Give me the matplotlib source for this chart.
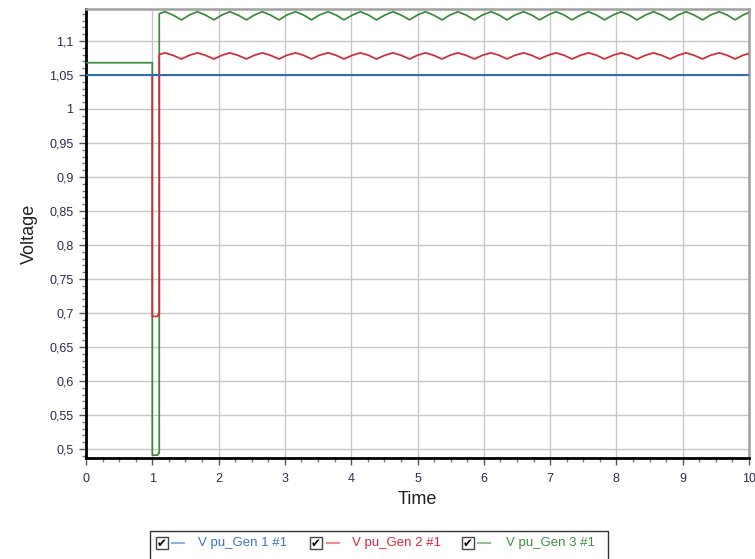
import matplotlib
matplotlib.use("Agg")
import matplotlib.pyplot as plt
from matplotlib.ticker import MultipleLocator, FuncFormatter
from matplotlib.patches import Rectangle
from matplotlib.lines import Line2D

plt.rcParams['font.family'] = ['Liberation Sans', 'DejaVu Sans']

# ---------------- data ----------------
gen1_t = [0.0, 10.0]
gen1_v = [1.05, 1.05]

# common steady-state sample times after the disturbance
osc_t = [1.19, 1.31, 1.44, 1.56, 1.68, 1.80, 1.93, 2.05, 2.17, 2.29, 2.42, 2.54,
         2.66, 2.78, 2.91, 3.03, 3.16, 3.28, 3.40, 3.52, 3.65, 3.77, 3.89, 4.02,
         4.14, 4.26, 4.38, 4.51, 4.63, 4.75, 4.88, 5.00, 5.12, 5.24, 5.37, 5.49,
         5.61, 5.73, 5.86, 5.98, 6.11, 6.23, 6.35, 6.47, 6.60, 6.72, 6.84, 6.97,
         7.09, 7.21, 7.33, 7.46, 7.58, 7.70, 7.82, 7.95, 8.07, 8.19, 8.31, 8.44,
         8.56, 8.68, 8.81, 8.93, 9.05, 9.17, 9.30, 9.42, 9.55, 9.67, 9.79, 9.91,
         10.0]

gen2_pre_t = [0.0, 1.0, 1.0, 1.08, 1.09, 1.105, 1.105]
gen2_pre_v = [1.05, 1.05, 0.695, 0.695, 0.698, 0.698, 1.080]
gen2_osc_v = [1.0825, 1.0790, 1.0735, 1.0790] * 18 + [1.0815]

gen3_pre_t = [0.0, 1.0, 1.0, 1.08, 1.095, 1.105, 1.105]
gen3_pre_v = [1.068, 1.068, 0.491, 0.491, 0.494, 0.494, 1.140]
gen3_osc_v = [1.1430, 1.1382, 1.1310, 1.1382] * 18 + [1.1418]

series_labels = ["V pu_Gen 1 #1", "V pu_Gen 2 #1", "V pu_Gen 3 #1"]
line_colors = ["#2f6db5", "#d42a35", "#3a8a3a"]
legend_line_colors = ["#8db5e2", "#ec8e92", "#8fc48f"]
legend_text_colors = ["#3a74c8", "#d8283a", "#3f8f3f"]

# ---------------- figure ----------------
W, H = 755, 559
fig = plt.figure(figsize=(W / 100, H / 100), dpi=100)
fig.patch.set_facecolor("white")
ax = fig.add_axes([86 / W, 1 - 458 / H, (749 - 86) / W, (458 - 9) / H])

ax.plot(gen3_pre_t + osc_t, gen3_pre_v + gen3_osc_v, color=line_colors[2], lw=1.25, zorder=3)
ax.plot(gen2_pre_t + osc_t, gen2_pre_v + gen2_osc_v, color=line_colors[1], lw=1.25, zorder=4)
ax.plot(gen1_t, gen1_v, color=line_colors[0], lw=1.5, zorder=5)

ax.set_xlim(0, 10)
ax.set_ylim(0.4868, 1.147)

ax.xaxis.set_major_locator(MultipleLocator(1))
ax.xaxis.set_minor_locator(MultipleLocator(0.25))
ax.yaxis.set_major_locator(MultipleLocator(0.05))
ax.yaxis.set_minor_locator(MultipleLocator(0.01))

def fmt(v, pos):
    s = f"{round(v, 3):g}"
    return s.replace('.', ',')

ax.yaxis.set_major_formatter(FuncFormatter(fmt))
ax.xaxis.set_major_formatter(FuncFormatter(fmt))

ax.grid(True, which='major', color='#c8c8c8', lw=1.0, zorder=0)
ax.set_axisbelow(True)

for s in ['left', 'bottom']:
    ax.spines[s].set_color('black')
    ax.spines[s].set_linewidth(2.0)
for s in ['top', 'right']:
    ax.spines[s].set_color('#a0a0a0')
    ax.spines[s].set_linewidth(1.8)

ax.tick_params(which='major', direction='out', length=5, width=1, color='#555555',
               labelsize=9, labelcolor='#2e2a55', pad=4)
ax.tick_params(which='minor', direction='out', length=3, width=1, color='#777777')
ax.tick_params(axis='x', pad=6)

ax.set_xlabel("Time", fontsize=13, color='#222222', labelpad=4)
ax.set_ylabel("Voltage", fontsize=13, color='#222222', labelpad=8)

# ---------------- legend (checkbox style) ----------------
def px(x, y):
    return x / W, 1 - y / H

box_l, box_r, box_t = 150, 608, 531
fig.add_artist(Line2D([box_l / W, box_l / W, box_r / W, box_r / W],
                      [0, 1 - box_t / H, 1 - box_t / H, 0],
                      transform=fig.transFigure, color='#333333', lw=1.0))

cb_x = [156, 310, 462]
ln_x = [172, 327, 478]
tx_x = [198, 352, 506]
yc = 543
for i in range(3):
    x0, y0 = px(cb_x[i], yc + 6)
    fig.add_artist(Rectangle((x0, y0), 12 / W, 12 / H, transform=fig.transFigure,
                             facecolor='white', edgecolor='#444444', lw=1.0))
    cx, cy = px(cb_x[i] + 6, yc)
    fig.text(cx, cy, "\u2714", fontsize=8.5, color='black', ha='center', va='center',
             family=['DejaVu Sans'])
    lx0, ly = px(ln_x[i], yc)
    lx1, _ = px(ln_x[i] + 12, yc)
    fig.add_artist(Line2D([lx0, lx1], [ly, ly], transform=fig.transFigure,
                          color=legend_line_colors[i], lw=1.5))
    tx, ty = px(tx_x[i], yc)
    fig.text(tx, ty, series_labels[i], fontsize=9.5, color=legend_text_colors[i],
             ha='left', va='center')

fig.savefig("out.png", dpi=100, facecolor='white')
